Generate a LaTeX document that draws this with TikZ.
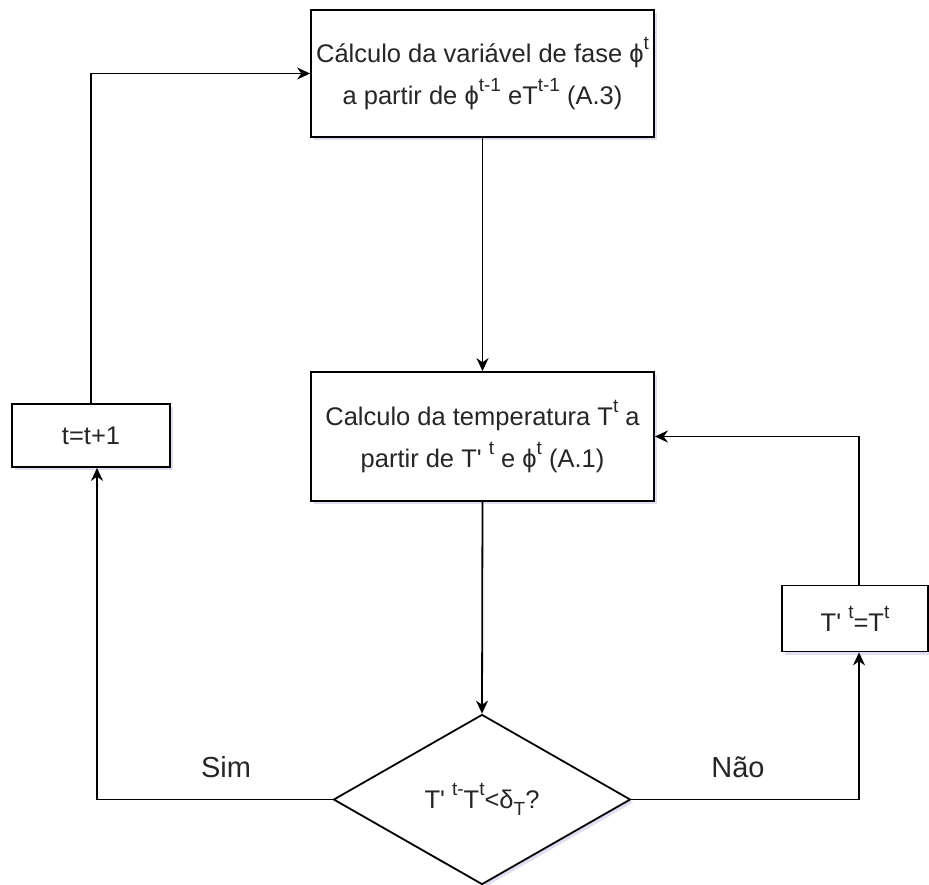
\documentclass[tikz,border=0pt]{standalone}
\usepackage{fontspec}
\setmainfont{Liberation Sans}
\usetikzlibrary{shapes.geometric,arrows.meta,shadows}
\newcommand\upx[1]{\raisebox{0.5em}{\fontsize{19}{19}\selectfont #1}}
\newcommand\dnx[1]{\raisebox{-0.3em}{\fontsize{19}{19}\selectfont #1}}
\newcommand\apos{\textquotesingle}
\newcommand\phix{\symbol{"03D5}}
\tikzset{
  box/.style={draw=black, line width=1.8pt, fill=white, align=center, text=black!85,
    inner sep=0pt, font=\fontsize{25.5}{42}\selectfont,
    drop shadow={opacity=0.18, shadow xshift=3pt, shadow yshift=-3pt, fill=blue!40!gray}},
  conn/.style={line width=1.8pt, draw=black, -{Stealth[length=13pt,width=12pt]}},
  lbl/.style={text=black!85, font=\fontsize{29}{32}\selectfont, inner sep=0pt}
}
\begin{document}
\begin{tikzpicture}[x=1pt,y=-1pt]
\useasboundingbox (0,0) rectangle (929,884);
\node[box, minimum width=343pt, minimum height=127pt] (top) at (482.5,73.5)
  {Cálculo da variável de fase \phix\upx{t}\\ a partir de \phix\upx{t-1} eT\upx{t-1} (A.3)};
\node[box, minimum width=343pt, minimum height=129pt] (mid) at (482.5,436.5)
  {Calculo da temperatura T\upx{t} a\\ partir de T\apos{} \upx{t} e \phix\upx{t} (A.1)};
\node[box, diamond, minimum width=297pt, minimum height=170pt] (dec) at (482,799.5)
  {T\apos{} \upx{t-}T\upx{t}<δ\dnx{T}?};
\node[box, minimum width=158pt, minimum height=63pt] (tb) at (91,435.5) {t=t+1};
\node[box, minimum width=146pt, minimum height=66pt] (tp) at (855,618.5) {T\apos{} \upx{t}=T\upx{t}};
\node[lbl] (sim) at (226,767) {Sim};
\node[lbl] (nao) at (738,767) {Não};
\draw[conn] (top.south) -- (mid.north);
\draw[conn] (mid.south) -- (dec.north);
\draw[conn] (dec.west) -| ([xshift=6pt]tb.south);
\draw[conn] (dec.east) -| ([xshift=4pt]tp.south);
\draw[conn] ([xshift=4pt]tp.north) |- (mid.east);
\draw[conn] (tb.north) |- (top.west);
\end{tikzpicture}
\end{document}
